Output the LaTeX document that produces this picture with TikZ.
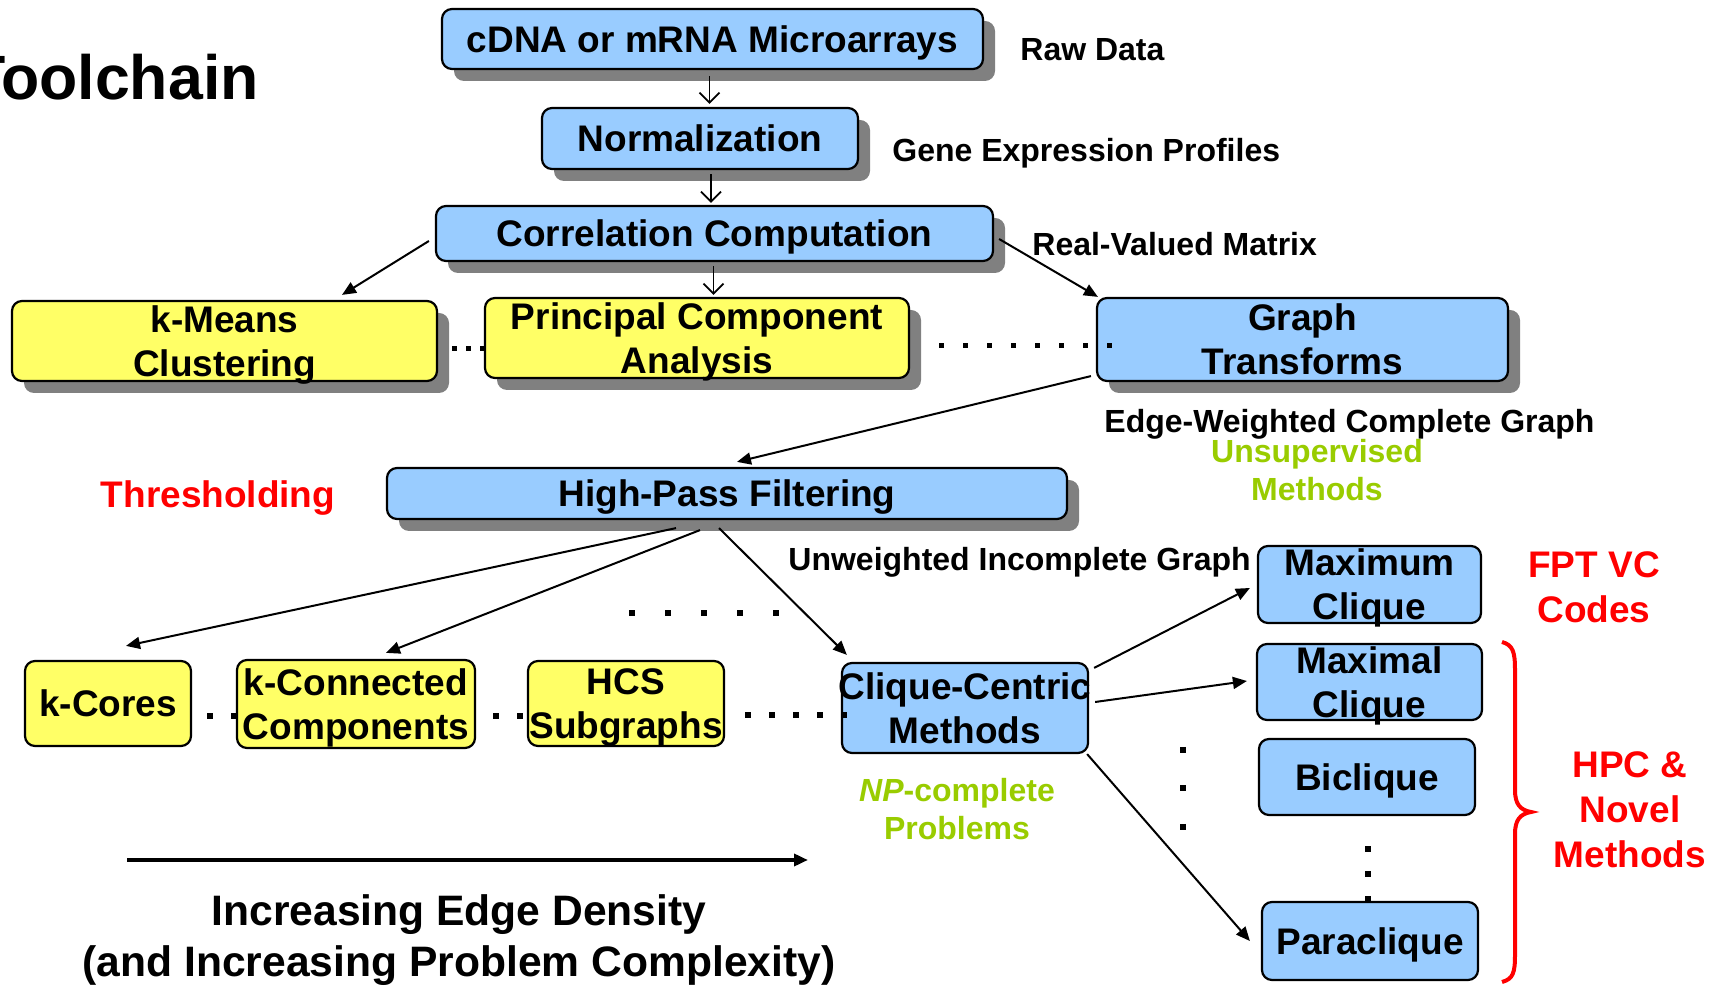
\documentclass[tikz,border=0pt]{standalone}
\usepackage{fontspec}
\setmainfont{Liberation Sans}
\usepackage{xcolor}
\definecolor{boxblue}{HTML}{99CCFF}
\definecolor{boxyellow}{HTML}{FFFF66}
\definecolor{npgreen}{HTML}{99CC00}
\definecolor{hired}{HTML}{FF0000}
\definecolor{shade}{HTML}{808080}
\usepackage{tikz}
\usetikzlibrary{arrows.meta,shadows,calc}

\begin{document}
\begin{tikzpicture}[
  x=0.5pt, y=-0.5pt,
  font=\bfseries,
  >={Triangle[length=7pt,width=6pt]},
  stage/.style={draw, line width=1.1pt, rounded corners=5pt, align=center, inner sep=0pt, text depth=0pt, fill=boxblue, font=\fontsize{18.5}{22}\selectfont\bfseries},
  method/.style={stage, fill=boxyellow},
  shad/.style={drop shadow={shadow xshift=6pt, shadow yshift=-6pt, fill=shade, opacity=1}},
  lbl/.style={inner sep=0pt, font=\fontsize{16}{19}\selectfont\bfseries},
  unsup/.style={lbl, align=center, text=npgreen},
  note/.style={inner sep=0pt, align=center, text=hired, font=\fontsize{18.5}{22.5}\selectfont\bfseries},
  link/.style={->, line width=1pt},
  vlink/.style={-{Straight Barb[length=5pt,width=10pt]}, line width=0.9pt},
  dotrow/.style={line width=3pt, dash pattern=on 3pt off 9pt},
]
\useasboundingbox (0,0) rectangle (1720,988);

% Title
\node[anchor=base east, inner sep=0pt, font=\fontsize{31.3}{38}\selectfont\bfseries] (title) at (259,100) {Toolchain};

% Pipeline
\node[stage, shad, minimum width=270.5pt, minimum height=30pt] (cdna) at (712.5,39) {cDNA or mRNA Microarrays};
\node[stage, shad, minimum width=158pt, minimum height=30.5pt] (norm) at (700,138.5) {Normalization};
\node[stage, shad, minimum width=278.5pt, minimum height=27.5pt] (corr) at (714.5,233.5) {Correlation Computation};

% Unsupervised methods
\node[method, shad, minimum width=212.5pt, minimum height=40pt] (kmeans) at (224.5,341) {k-Means\\Clustering};
\node[method, shad, minimum width=212pt, minimum height=40pt] (pca) at (697,338) {Principal Component\\Analysis};
\node[stage, shad, minimum width=205.5pt, minimum height=41.5pt] (graph) at (1302.5,339.5) {Graph\\Transforms};

% Thresholding
\node[stage, shad, minimum width=340pt, minimum height=25.5pt] (hpf) at (727,493.5) {High-Pass Filtering};

% Graph algorithms
\node[method, minimum width=83pt, minimum height=42.5pt] (kcores) at (108,703.5) {k-Cores};
\node[method, minimum width=119pt, minimum height=44pt] (kconn) at (356,704) {k-Connected\\Components};
\node[method, minimum width=98pt, minimum height=42.5pt] (hcs) at (626,703.5) {HCS\\Subgraphs};
\node[stage, inner xsep=-1.7pt, minimum width=123pt, minimum height=45pt] (clique) at (965,708) {Clique-Centric\\Methods};

% Clique problems
\node[stage, minimum width=111.5pt, minimum height=38.5pt] (maximum) at (1369.5,584.5) {Maximum\\Clique};
\node[stage, minimum width=112.5pt, minimum height=38pt] (maximal) at (1369.5,682) {Maximal\\Clique};
\node[stage, minimum width=108pt, minimum height=38pt] (biclique) at (1367,777) {Biclique};
\node[stage, minimum width=108pt, minimum height=39pt] (paraclique) at (1370,941) {Paraclique};

% Data labels
\node[lbl, anchor=base west] (raw) at (1020,61) {Raw Data};
\node[lbl, anchor=base west] (gep) at (892,162) {Gene Expression Profiles};
\node[lbl, anchor=base west] (rvm) at (1032,255.5) {Real-Valued Matrix};
\node[lbl, anchor=base west] (ewcg) at (1104,432.5) {Edge-Weighted Complete Graph};
\node[lbl, anchor=base west] (uicg) at (788,570.5) {Unweighted Incomplete Graph};
\node[unsup] (unsupm) at (1317,470) {Unsupervised\\Methods};
\node[unsup] (npc) at (957,809) {\textit{NP}-complete\\Problems};

% Side notes
\node[note, anchor=base] (thresh) at (218,508) {Thresholding};
\node[note] (fpt) at (1594,587) {FPT VC\\Codes};
\node[note] (hpc) at (1630,810) {HPC \&\\Novel\\Methods};
\draw[hired, line width=2pt] (1502,642) .. controls (1513,645) and (1515,652) .. (1515,670) -- (1515,790) .. controls (1515,804) and (1520,810) .. (1531,812) .. controls (1520,814) and (1515,820) .. (1515,834) -- (1515,955) .. controls (1515,973) and (1513,979) .. (1502,982);

% Density arrow
\coordinate (dens0) at (127,860);
\coordinate (dens1) at (808,860);
\draw[->, line width=2pt] (dens0) -- (dens1);
\node[inner sep=0pt, align=center, font=\fontsize{21.3}{25.5}\selectfont\bfseries] (density) at (459,940) {Increasing Edge Density\\(and Increasing Problem Complexity)};

% Arrows
\draw[vlink] ($(cdna.south)+(-3,6)$) -- ($(cdna.south |- norm.north)+(-3,-3)$);
\draw[vlink] ($(norm.south)+(11,4)$) -- ($(norm.south |- corr.north)+(11,-2)$);
\draw[vlink] ($(corr.south)+(-1,4)$) -- ($(corr.south |- pca.north)+(-1,-2)$);
\draw[link] ($(corr.west)+(-6,7.5)$) -- ($(kmeans.north)+(117.5,-5)$);
\draw[link] ($(corr.east)+(5,5.5)$) -- ($(graph.north west)+(2,0)$);
\draw[link] ($(graph.south west)+(-5,-6)$) -- ($(hpf.north)+(10,-5)$);
\draw[link] ($(hpf.south)+(-51,8)$) -- ($(kcores.north)+(18,-14)$);
\draw[link] ($(hpf.south)+(-27,10)$) -- ($(kconn.north)+(30,-6)$);
\draw[link] ($(hpf.south)+(-8,8)$) -- ($(clique.north west)+(6,-7)$);
\draw[link] ($(clique.north east)+(5,6)$) -- ($(maximum.west)+(-7,3.5)$);
\draw[link] ($(clique.east)+(6,-6)$) -- ($(maximal.west)+(-9,-1)$);
\draw[link] ($(clique.south east)+(-2,0)$) -- ($(paraclique.west)+(-11,0)$);

% Dots
\draw[dotrow, line width=2.5pt, dash pattern=on 2.5pt off 4.5pt] ($(kmeans.east)+(14,8)$) -- ($(pca.west)+(0,11)$);
\draw[dotrow, line width=2.5pt, dash pattern=on 2.5pt off 9.5pt] ($(pca.east)+(29,8)$) -- ($(graph.west)+(20,6.5)$);
\draw[dotrow] ($(kcores.east)+(15,13)$) -- ($(kconn.west)+(0,12.5)$);
\draw[dotrow] ($(kconn.east)+(17,12.5)$) -- ($(hcs.west)+(0,13)$);
\draw[dotrow] ($(hcs.east)+(20,12)$) -- ($(clique.west)+(6,7.5)$);
\coordinate (more0) at (629,613);
\coordinate (more1) at (780,613);
\draw[dotrow, dash pattern=on 3pt off 15pt] (more0) -- (more1);
\coordinate (vdot0) at (1183,747);
\coordinate (vdot1) at (1183,830);
\draw[dotrow, dash pattern=on 3pt off 16.25pt] (vdot0) -- (vdot1);
\draw[dotrow, dash pattern=on 3pt off 9.5pt] ($(biclique.south)+(1,30)$) -- ($(paraclique.north)+(-2,0)$);
\end{tikzpicture}
\end{document}
